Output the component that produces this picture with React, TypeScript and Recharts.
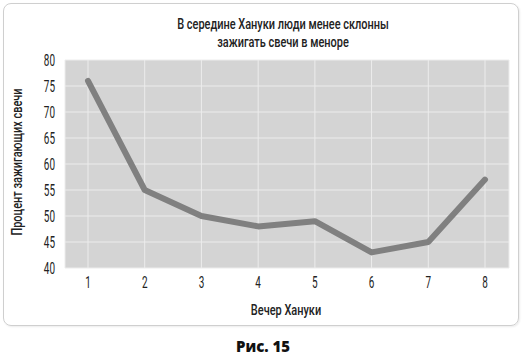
import React from "react";
import { LineChart, Line, XAxis, YAxis, CartesianGrid } from "recharts";

const nights = ["1", "2", "3", "4", "5", "6", "7", "8"];
const percentLit = [76, 55, 50, 48, 49, 43, 45, 57];
const yTicks = [40, 45, 50, 55, 60, 65, 70, 75, 80];

const titleLines = ["В середине Хануки люди менее склонны", "зажигать свечи в меноре"];
const yLabel = "Процент зажигающих свечи";
const xLabel = "Вечер Хануки";
const caption = "Рис. 15";

const data = nights.map((n, i) => ({ night: n, value: percentLit[i] }));

const FONT = "Roboto, 'DejaVu Sans Condensed', sans-serif";
const TEXT = "#222";

const CondTick = (props: any) => {
  const { x, y, payload, textAnchor, dy } = props;
  return (
    <g transform={`translate(${x},${y})`}>
      <text
        x={0}
        y={0}
        dy={dy}
        textAnchor={textAnchor}
        fontSize={16}
        fontFamily={FONT}
        fill={TEXT}
        transform="scale(0.62,1)"
      >
        {payload.value}
      </text>
    </g>
  );
};

const XTick = (props: any) => <CondTick {...props} textAnchor="middle" dy="0.75em" />;
const YTick = (props: any) => <CondTick {...props} textAnchor="end" dy="0.36em" />;

const condensed = (extra: React.CSSProperties): React.CSSProperties => ({
  position: "absolute",
  fontFamily: FONT,
  fontSize: 15,
  fontWeight: 500,
  color: TEXT,
  whiteSpace: "nowrap",
  lineHeight: "18px",
  ...extra,
});

export default function App() {
  return (
    <div style={{ position: "absolute", left: 0, top: 0, width: 526, height: 355, background: "#fff" }}>
      <div
        style={{
          position: "absolute",
          left: 3,
          top: 3,
          width: 514,
          height: 321,
          border: "1px solid #cfcfcf",
          borderRadius: 8,
          boxShadow: "1px 1px 2px rgba(0,0,0,0.08)",
        }}
      />
      <div style={condensed({ left: 283, top: 15, transform: "translateX(-50%) scaleX(0.73)", textAlign: "center" })}>
        {titleLines.map((t) => (
          <div key={t}>{t}</div>
        ))}
      </div>
      <div style={{ position: "absolute", left: 0, top: 0 }}>
        <LineChart width={526} height={330} data={data} margin={{ top: 60, right: 17, bottom: 0, left: 5 }}>
          <CartesianGrid fill="#d4d4d4" stroke="#ececec" strokeWidth={1} />
          <XAxis
            dataKey="night"
            type="category"
            padding={{ left: 23, right: 24 }}
            axisLine={false}
            tickLine={false}
            tick={<XTick />}
            height={62}
          />
          <YAxis
            type="number"
            domain={[40, 80]}
            ticks={yTicks}
            interval={0}
            axisLine={false}
            tickLine={false}
            tickMargin={4}
            width={60}
            tick={<YTick />}
          />
          <Line
            type="linear"
            dataKey="value"
            stroke="#808080"
            strokeWidth={6}
            dot={false}
            activeDot={false}
            strokeLinecap="round"
            strokeLinejoin="round"
            isAnimationActive={false}
          />
        </LineChart>
      </div>
      <div style={condensed({ left: 286, top: 310, transform: "translate(-50%,-50%) scaleX(0.73)" })}>{xLabel}</div>
      <div style={condensed({ left: 17, top: 162, transform: "translate(-50%,-50%) rotate(-90deg) scaleX(0.73)" })}>{yLabel}</div>
      <div
        style={{
          position: "absolute",
          left: 0,
          top: 338,
          width: 526,
          textAlign: "center",
          fontFamily: "'Open Sans', sans-serif",
          fontWeight: 800,
          fontSize: 15,
          lineHeight: "17px",
          color: "#111",
        }}
      >
        {caption}
      </div>
    </div>
  );
}
